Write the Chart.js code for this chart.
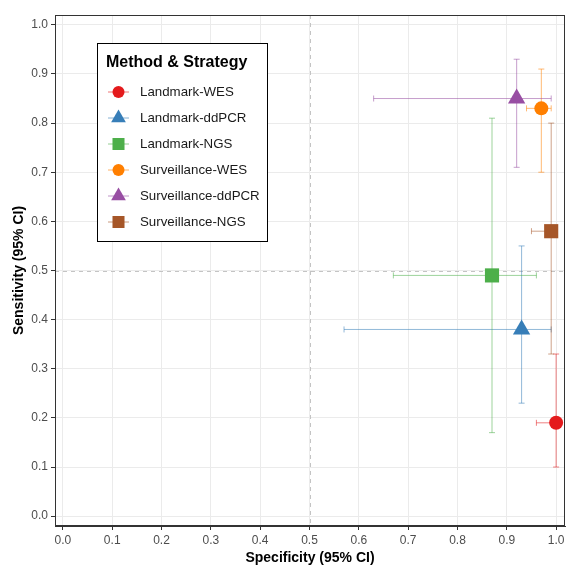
<!DOCTYPE html>
<html>
<head>
<meta charset="utf-8">
<script src="https://cdn.jsdelivr.net/npm/chart.js@4"></script>
<style>
  body { margin: 0; background: #fff; }
  canvas { display: block; }
</style>
</head>
<body>
<canvas id="roc-space" width="568" height="567"></canvas>
<script>
// data
const groupNames = ['Landmark-WES', 'Landmark-ddPCR', 'Landmark-NGS', 'Surveillance-WES', 'Surveillance-ddPCR', 'Surveillance-NGS']
const specificity = [1.00, 0.93, 0.87, 0.97, 0.92, 0.99]
const specLower = [0.96, 0.57, 0.67, 0.94, 0.63, 0.95]
const specUpper = [1.00, 0.99, 0.96, 0.99, 0.99, 1.00]
const sensitivity = [0.19, 0.38, 0.49, 0.83, 0.85, 0.58]
const sensLower = [0.10, 0.23, 0.17, 0.70, 0.71, 0.33]
const sensUpper = [0.33, 0.55, 0.81, 0.91, 0.93, 0.80]
const axisTicks = [0, 0.1, 0.2, 0.3, 0.4, 0.5, 0.6, 0.7, 0.8, 0.9, 1.0]
const refValue = 0.5

// styling
const FONT = "'Liberation Sans', Arial, sans-serif"
const groupColors = ['#E41A1C', '#377EB8', '#4DAF4A', '#FF7F00', '#984EA3', '#A65628']
const groupShapes = ['circle', 'triangle', 'rect', 'circle', 'triangle', 'rect']
const shapeRadius = { circle: 7, triangle: 10, rect: 10 }
const legendRadius = { circle: 6, triangle: 8.5, rect: 8.5 }

function fade(hex, a) {
	let r = parseInt(hex.slice(1, 3), 16), g = parseInt(hex.slice(3, 5), 16), b = parseInt(hex.slice(5, 7), 16)
	return 'rgba(' + r + ',' + g + ',' + b + ',' + a + ')'
}

let datasets = groupNames.map(function (name, i) {
	return {
		label: name,
		data: [{ x: specificity[i], y: sensitivity[i] }],
		pointStyle: groupShapes[i],
		pointRadius: shapeRadius[groupShapes[i]],
		backgroundColor: groupColors[i],
		pointBorderWidth: 0
	}
})

// reference lines + error bars under the points
const errorBars = {
	id: 'errorBars',
	beforeDatasetsDraw(chart) {
		const ctx = chart.ctx
		const xs = chart.scales.x, ys = chart.scales.y
		const area = chart.chartArea
		ctx.save()

		ctx.strokeStyle = '#C4C4C4'
		ctx.lineWidth = 1
		ctx.setLineDash([4, 4])
		let rx = Math.round(xs.getPixelForValue(refValue)) + 0.5
		let ry = Math.round(ys.getPixelForValue(refValue)) + 0.5
		ctx.beginPath()
		ctx.moveTo(rx, area.top); ctx.lineTo(rx, area.bottom)
		ctx.moveTo(area.left, ry); ctx.lineTo(area.right, ry)
		ctx.stroke()
		ctx.setLineDash([])

		const cap = 3
		groupNames.forEach(function (n, i) {
			let cx = xs.getPixelForValue(specificity[i])
			let cy = ys.getPixelForValue(sensitivity[i])
			let x1 = xs.getPixelForValue(specLower[i]), x2 = xs.getPixelForValue(specUpper[i])
			let y1 = ys.getPixelForValue(sensLower[i]), y2 = ys.getPixelForValue(sensUpper[i])
			ctx.strokeStyle = fade(groupColors[i], 0.55)
			ctx.lineWidth = 1
			ctx.beginPath()
			// horizontal (specificity)
			ctx.moveTo(x1, cy); ctx.lineTo(x2, cy)
			ctx.moveTo(x1, cy - cap); ctx.lineTo(x1, cy + cap)
			ctx.moveTo(x2, cy - cap); ctx.lineTo(x2, cy + cap)
			// vertical (sensitivity)
			ctx.moveTo(cx, y1); ctx.lineTo(cx, y2)
			ctx.moveTo(cx - cap, y1); ctx.lineTo(cx + cap, y1)
			ctx.moveTo(cx - cap, y2); ctx.lineTo(cx + cap, y2)
			ctx.stroke()
		})
		ctx.restore()
	}
}

// panel border and the boxed legend inside the plot
const panelAndLegend = {
	id: 'panelAndLegend',
	afterDraw(chart) {
		const ctx = chart.ctx
		const a = chart.chartArea
		ctx.save()
		ctx.strokeStyle = '#333333'
		ctx.lineWidth = 1
		ctx.strokeRect(Math.round(a.left) + 0.5, Math.round(a.top) + 0.5, Math.round(a.right - a.left) - 1, Math.round(a.bottom - a.top) - 1)

		let bx = 97.5, by = 43.5, bw = 170, bh = 198
		ctx.fillStyle = '#fff'
		ctx.fillRect(bx, by, bw, bh)
		ctx.strokeStyle = '#000'
		ctx.strokeRect(bx, by, bw, bh)

		ctx.fillStyle = '#000'
		ctx.font = 'bold 16px ' + FONT
		ctx.textBaseline = 'middle'
		ctx.textAlign = 'left'
		ctx.fillText('Method & Strategy', 106, 63)

		groupNames.forEach(function (name, i) {
			let y = 92 + i * 26
			ctx.strokeStyle = fade(groupColors[i], 0.6)
			ctx.lineWidth = 1
			ctx.beginPath()
			ctx.moveTo(108, y); ctx.lineTo(129, y)
			ctx.stroke()
			ctx.fillStyle = groupColors[i]
			Chart.helpers.drawPoint(ctx, { pointStyle: groupShapes[i], radius: legendRadius[groupShapes[i]], borderWidth: 0, rotation: 0 }, 118.5, y)
			ctx.fillStyle = '#1A1A1A'
			ctx.font = '13.3px ' + FONT
			ctx.fillText(name, 140, y)
		})
		ctx.restore()
	}
}

function axis(title, lo, hi, horizontal) {
	return {
		type: 'linear',
		min: lo,
		max: hi,
		afterBuildTicks: function (s) { s.ticks = axisTicks.map(function (v) { return { value: v } }) },
		afterFit: function (s) {
			if (horizontal) s.height = 41; else s.width = 55
			s.paddingLeft = 0; s.paddingRight = 0; s.paddingTop = 0; s.paddingBottom = 0
		},
		ticks: {
			callback: function (v) { return v.toFixed(1) },
			color: '#4D4D4D',
			font: { family: FONT, size: 12 },
			padding: 3,
			maxRotation: 0,
			autoSkip: false
		},
		grid: { color: '#EBEBEB', lineWidth: 1, tickLength: 4, tickColor: '#333333' },
		border: { display: true, color: '#333333', width: 1 },
		title: {
			display: true,
			text: title,
			color: '#000',
			font: { family: FONT, size: 14, weight: 'bold' },
			padding: horizontal ? { top: 0, bottom: 0 } : { top: 11, bottom: 0 }
		}
	}
}

let rocChart = new Chart(document.getElementById('roc-space').getContext('2d'), {
	type: 'scatter',
	data: { datasets: datasets },
	plugins: [errorBars, panelAndLegend],
	options: {
		responsive: false,
		animation: false,
		devicePixelRatio: 1,
		layout: { autoPadding: false, padding: { left: 0, right: 3, top: 15, bottom: 0 } },
		scales: {
			x: axis('Specificity (95% CI)', -0.016, 1.018, true),
			y: axis('Sensitivity (95% CI)', -0.02, 1.02, false)
		},
		plugins: {
			legend: { display: false },
			tooltip: { enabled: false }
		}
	}
});
</script>
</body>
</html>
